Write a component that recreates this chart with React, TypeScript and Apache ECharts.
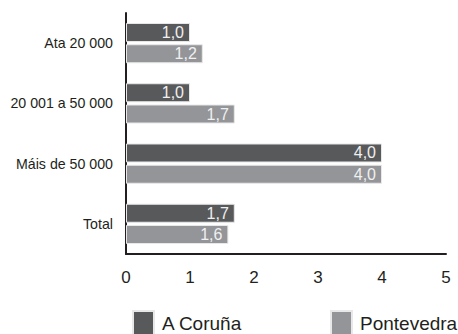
import React, { useEffect, useRef } from "react";
import * as echarts from "echarts";

const categories = ["Ata 20 000", "20 001 a 50 000", "Máis de 50 000", "Total"];
const coruna = [1.0, 1.0, 4.0, 1.7];
const pontevedra = [1.2, 1.7, 4.0, 1.6];
const seriesNames = ["A Coruña", "Pontevedra"];
const colors = ["#58595b", "#939598"];

const font = "'Liberation Sans', Arial, sans-serif";

export default function App() {
  const ref = useRef<HTMLDivElement>(null);
  useEffect(() => {
    const chart = echarts.init(ref.current!, null, { renderer: "svg" });
    const fmt = (p: any) => Number(p.value).toFixed(1).replace(".", ",");
    const mk = (name: string, data: number[], color: string) => ({
      name,
      type: "bar",
      data,
      barWidth: 19,
      barGap: "12%",
      itemStyle: { color, borderColor: "#e8e8e8", borderWidth: 1 },
      label: {
        show: true,
        position: "insideRight",
        distance: 6,
        color: "#f0f0f0",
        fontSize: 16,
        fontFamily: font,
        formatter: fmt,
      },
    });
    const legendBase = {
      top: 310,
      padding: 0,
      itemWidth: 21,
      itemHeight: 24,
      icon: "rect",
      textStyle: { fontSize: 19, fontFamily: font, color: "#231f20", padding: [0, 0, 0, 3] },
    };
    chart.setOption({
      animation: false,
      backgroundColor: "#ffffff",
      grid: { left: 126, right: 12, top: 13, bottom: 80, containLabel: false },
      xAxis: {
        type: "value",
        min: 0,
        max: 5,
        interval: 1,
        axisLine: { show: true, lineStyle: { color: "#231f20", width: 2 } },
        axisTick: { show: false },
        splitLine: { show: false },
        axisLabel: { color: "#231f20", fontSize: 17, fontFamily: font, margin: 15 },
      },
      yAxis: {
        type: "category",
        data: categories,
        inverse: true,
        axisLine: { show: true, lineStyle: { color: "#231f20", width: 2 } },
        axisTick: { show: false },
        axisLabel: { color: "#231f20", fontSize: 14.2, fontFamily: font, margin: 13 },
      },
      legend: [
        { ...legendBase, data: [seriesNames[0]], left: 132 },
        { ...legendBase, data: [seriesNames[1]], left: 330 },
      ],
      series: [mk(seriesNames[0], coruna, colors[0]), mk(seriesNames[1], pontevedra, colors[1])],
    });
    return () => chart.dispose();
  }, []);
  return <div ref={ref} style={{ width: 458, height: 334, position: "absolute", left: 0, top: 0 }} />;
}
